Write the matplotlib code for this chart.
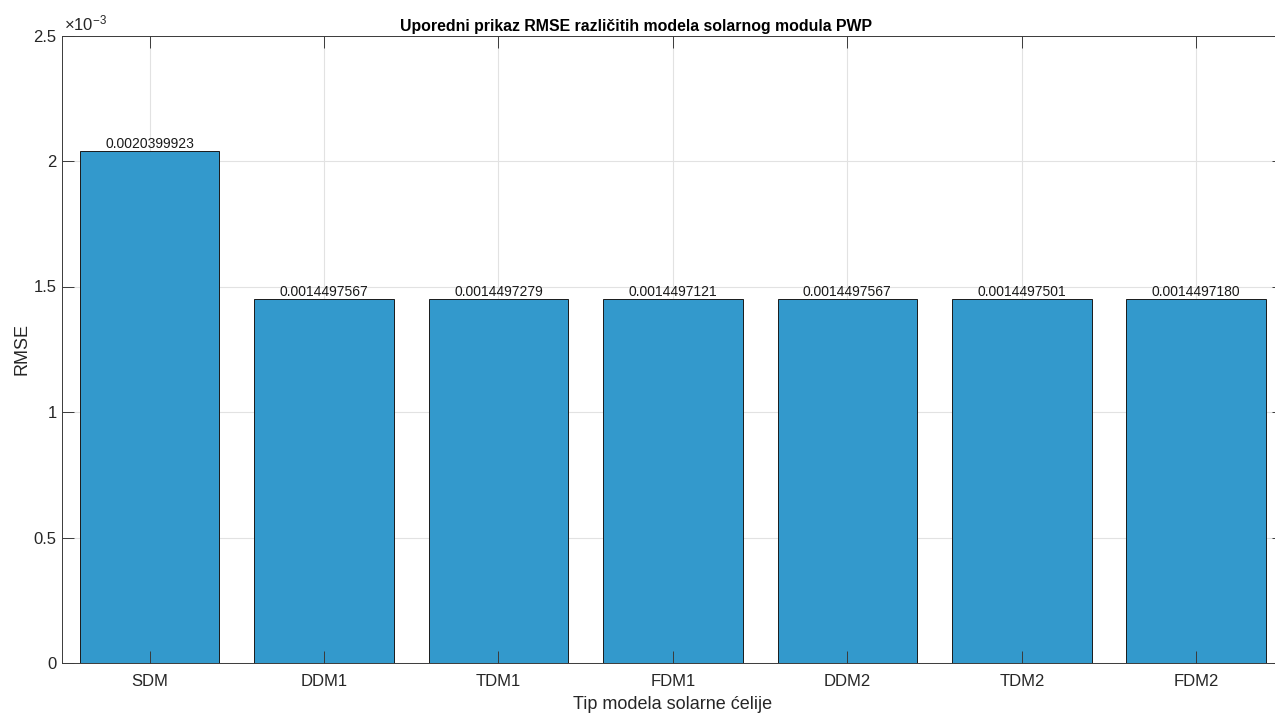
import numpy as np
import matplotlib
matplotlib.use("Agg")
import matplotlib.pyplot as plt
from matplotlib.ticker import FuncFormatter

plt.rcParams['font.family'] = ['Liberation Sans', 'DejaVu Sans']

# data
models = ['SDM', 'DDM1', 'TDM1', 'FDM1', 'DDM2', 'TDM2', 'FDM2']
rmse = [0.0020399923, 0.0014497567, 0.0014497279, 0.0014497121,
        0.0014497567, 0.0014497501, 0.0014497180]
y_ticks = [0, 0.5e-3, 1e-3, 1.5e-3, 2e-3, 2.5e-3]

W, H = 1275, 715
fig = plt.figure(figsize=(W / 100, H / 100), dpi=100)
# axes runs a bit past the right edge of the figure, as in the original
ax = fig.add_axes([62.3 / W, (H - 663) / H, 1221.2 / W, 627.5 / H])

x = np.arange(1, len(models) + 1)
bar_col = '#3399cc'
ax.bar(x, rmse, width=0.8, color=bar_col, edgecolor='#1a1a1a', linewidth=0.7, zorder=2)

for xi, v in zip(x, rmse):
    ax.text(xi, v, f'{v:.10f}', ha='center', va='bottom', fontsize=10,
            color='#1a1a1a', zorder=4)

ax.set_xlim(0.5, len(models) + 0.5)
ax.set_ylim(0, 2.5e-3)
ax.set_xticks(x)
ax.set_xticklabels(models)
ax.set_yticks(y_ticks)
ax.yaxis.set_major_formatter(FuncFormatter(lambda v, p: f'{v * 1e3:g}'))

ax.set_axisbelow(True)
ax.grid(True, color='#e2e2e2', linewidth=0.8)
for s in ax.spines.values():
    s.set_color('#3a3a3a')
    s.set_linewidth(0.7)
ax.tick_params(axis='both', direction='in', length=8.5, width=0.7, color='#3a3a3a',
               labelcolor='#262626', labelsize=12)
ax.tick_params(axis='x', pad=8, bottom=False, top=False)
ax.tick_params(axis='y', pad=4, left=True, right=True)

# overlay for x tick marks drawn above the bars
ax2 = ax.twiny()
ax2.set_xlim(ax.get_xlim())
ax2.set_xticks(x)
ax2.tick_params(axis='x', direction='in', length=8.5, width=0.7, color='#3a3a3a',
                top=True, bottom=True, labeltop=False, labelbottom=False)
for s in ax2.spines.values():
    s.set_visible(False)

ax.set_xlabel('Tip modela solarne ćelije', fontsize=13, color='#262626', labelpad=5)
ax.set_ylabel('RMSE', fontsize=13, color='#262626', labelpad=2)
ax.set_title('Uporedni prikaz RMSE različitih modela solarnog modula PWP',
             fontsize=11.4, fontweight='bold', color='black', x=0.47, pad=3)
ax.text(0.0015, 1.003, r'$\mathregular{\times10^{-3}}$', transform=ax.transAxes,
        ha='left', va='bottom', fontsize=12, color='#262626')

fig.savefig('out.png', dpi=100)
